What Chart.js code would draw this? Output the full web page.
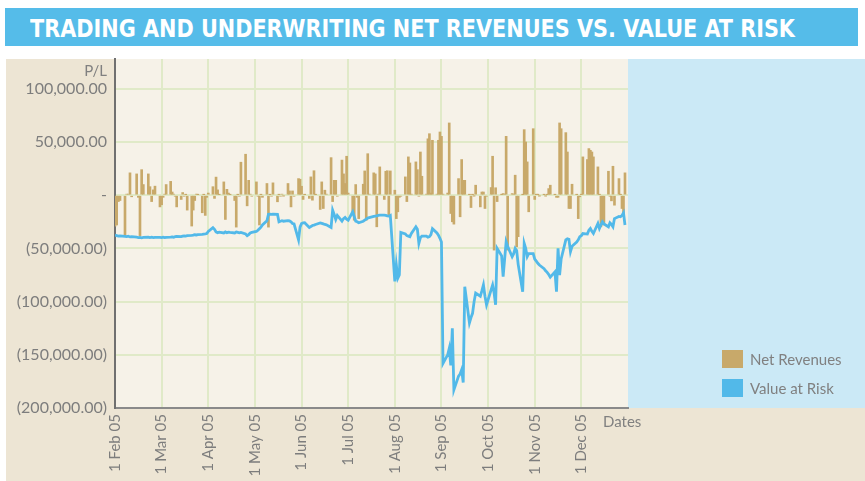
<!DOCTYPE html>
<html>
<head>
<meta charset="utf-8">
<script src="https://cdn.jsdelivr.net/npm/chart.js@4.4.1/dist/chart.umd.min.js"></script>
<style>
    body { margin: 0; background: #ffffff; }
    #page { position: relative; width: 865px; height: 481px; overflow: hidden; }
    #banner {
        position: absolute; left: 5px; top: 8px; width: 853px; height: 38px;
        background: #55bce9;
    }
    #bannerText {
        position: absolute; left: 25px; top: 6px;
        font-family: "Liberation Sans Narrow", "DejaVu Sans Condensed", "Open Sans", sans-serif;
        font-weight: bold; font-size: 25px; line-height: 30px; color: #ffffff;
        white-space: nowrap; transform-origin: 0 0;
    }
    #chart { position: absolute; left: 0; top: 0; }
    .legend-item {
        position: absolute; left: 722px; height: 18px;
        font-family: Lato, "Open Sans", sans-serif; font-size: 15px; color: #808080;
        white-space: nowrap;
    }
    .legend-item span.swatch {
        position: absolute; left: 0; top: 0; width: 21px; height: 18px;
    }
    .legend-item span.text { position: absolute; left: 28px; top: -1px; line-height: 20px; }
</style>
</head>
<body>
<div id="page">
    <div id="banner"><div id="bannerText">TRADING AND UNDERWRITING NET REVENUES VS. VALUE AT RISK</div></div>
    <canvas id="chart" width="865" height="481"></canvas>
    <div id="legend"></div>
</div>
<script>
// month labels on the date axis and days per month (Feb..Dec 2005)
const monthLabels = ['1 Feb 05', '1 Mar 05', '1 Apr 05', '1 May 05', '1 Jun 05', '1 Jul 05',
                     '1 Aug 05', '1 Sep 05', '1 Oct 05', '1 Nov 05', '1 Dec 05'];
const monthDays = [28, 31, 30, 31, 30, 31, 31, 30, 31, 30, 31];
const pnlTicks = [-200000, -150000, -100000, -50000, 0, 50000, 100000];

// daily P/L, one value per weekday
const netRevenues = [
    -29000, -28000, -6000, -5000, -38000, 1000, 1000, 21000, -1500, 20000, -2000, -38000, 24000, 10000, 20000, 8000, -6000, 5000, 8500, -11000,
    -9000, -2000, 1000, 10000, 13000, 3000, 1000, -1000, -11000, -4000, 2500, -1000, 500, -14000, -29000, -14000, -5000, 1000, 500, -16500, 500, -19000, -2000,
    2000, 8000, -3000, 17000, 5000, 500, 12500, -22800, 5500, 2000, 500, -5000, -30000, 500, -1000, 31000, 38500, -10000, 14000, 1000, -1000,
    12500, -1000, -28000, 500, -2000, 11000, -30000, 500, -1000, 11600, -6200, 500, -1000, 1000, -500, 11000, 4000, -11000, 4000, -1000, 15600, 15000,
    8400, -4000, 500, -3000, 17200, -4700, 23000, 500, -13400, 12500, -12500, 4700, 1000, 35300, -6000, 14000, 14000, -1000, 33000, 20000, 11000, 36600,
    2000, -15600, -23500, 10000, -2000, -22000, 10300, 22800, -23500, 39000, 1000, 21000, 20000, -29700, 1000, 26600, -4000, 22500, 23000, -18800, 22800,
    4700, -22000, -15600, -2000, -1000, 17200, -6000, 36000, 30300, 1000, 31300, 24000, -1000, 40600, 17800, 1000, 53000, 57800, 2000, 51600, 1000, 51600, 59400,
    55300, 1000, 2000, 67900, -17200, -25000, -27200, 15600, -20300, 33500, 14000, 14000, 500, -11600, 500, -500, 9400, -11000, 3000, 3000, -12500, -1000,
    7200, 36600, -51600, 7000, -6000, 500, 1500, 1000, 55300, -51600, 1500, 1000, 18800, -48500, -39000, 500, 61600, 50000, 31300, -15600, 62500,
    -4000, 500, 500, -500, 500, -500, 500, 6200, 9400, 500, -2000, -2000, 67900, 62500, 58800, 40600, -12500, -12500, 10300, 500, -22000, -1500,
    500, 36000, 33500, 43800, 42200, 40600, 36000, 26600, 500, -29700, -28000, -26600, 22500, -1000, -5300, 27200, -9400, 15600, 500, -12500, -17000, 21000
];

// daily value at risk, same days
const valueAtRisk = [
    -37500, -38000, -38500, -38200, -38800, -39000, -38500, -39200, -39000, -39500, -39800, -39600, -40000, -39700, -39400, -39800, -39500, -39900, -39600, -39700,
    -39800, -39500, -39900, -39600, -39400, -39200, -39500, -39000, -38800, -39000, -38500, -38200, -38400, -38000, -37800, -37600, -37200, -37400, -37000, -36800, -36600, -36400, -36000,
    -34000, -30500, -32000, -34500, -35300, -34800, -35500, -34500, -35200, -34800, -35000, -35500, -34600, -35000, -35400, -35000, -36500, -38000, -37000, -35500, -35000,
    -34000, -33000, -31500, -30000, -28000, -24000, -18000, -17800, -18000, -17800, -18000, -25000, -24500, -24000, -24500, -24000, -24200, -25000, -26600, -27000, -42000, -30000,
    -26600, -26000, -25900, -30300, -29500, -28500, -28100, -27500, -26000, -26500, -27000, -27500, -27800, -30300, -14000, -18000, -22800, -19000, -24400, -22000, -20900, -22500,
    -23500, -15600, -20000, -24400, -25000, -25900, -24500, -23500, -22500, -21500, -21000, -20000, -19700, -19500, -19000, -18800, -18800, -19000, -19500, -19700, -19000,
    -81000, -65600, -78000, -75000, -35000, -36500, -38000, -38500, -39000, -36000, -29700, -32000, -45300, -40000, -38500, -38500, -39500, -39000, -37000, -31500, -35500, -37500, -40500,
    -44000, -158000, -150000, -144000, -160000, -125000, -183000, -170000, -168000, -164000, -176000, -86000, -120000, -115000, -111000, -100000, -92000, -95000, -90000, -84400, -95000, -103000,
    -89000, -84400, -92000, -103000, -50000, -57000, -76600, -60000, -43800, -48000, -57800, -55000, -50000, -52000, -65000, -90700, -45300, -50000, -57800, -55000, -55000,
    -60000, -62000, -64000, -65600, -69000, -71000, -72500, -74500, -77000, -72000, -90700, -50000, -75000, -60000, -42000, -41000, -41500, -53000, -48000, -44000, -42000, -39000,
    -38000, -36000, -36500, -33000, -31300, -34000, -36000, -26600, -31300, -28000, -25000, -27000, -29700, -26000, -27500, -29700, -22000, -20000, -20300, -19000, -16600, -28000
];

// weekday positions: month index plus fraction of the month
function tradingDays() {
    const xs = [];
    const d = new Date(2005, 1, 1);
    while (d.getFullYear() === 2005) {
        const dow = d.getDay();
        if (dow !== 0 && dow !== 6) {
            const m = d.getMonth() - 1;
            xs.push(m + (d.getDate() - 1) / monthDays[m]);
        }
        d.setDate(d.getDate() + 1);
    }
    return xs;
}

function formatPnl(v) {
    if (v === 0) return '-';
    const s = Math.abs(v).toLocaleString('en-US', { minimumFractionDigits: 2, maximumFractionDigits: 2 });
    return v < 0 ? '(' + s + ')' : s;
}

const dayX = tradingDays();
const tickFont = { family: 'Lato, "Open Sans", sans-serif', size: 16 };
const gridColor = '#e0eac8';

// panel, plot and side backgrounds plus the axis captions
const backdrop = {
    id: 'backdrop',
    beforeDraw(chart) {
        const { ctx, chartArea: a } = chart;
        ctx.save();
        ctx.fillStyle = '#ede5d4';
        ctx.fillRect(6, 59, chart.width - 6, chart.height - 59);
        ctx.fillStyle = '#f6f2e8';
        ctx.fillRect(a.left, a.top, a.right - a.left, a.bottom - a.top);
        ctx.fillStyle = '#cbe9f6';
        ctx.fillRect(a.right, a.top, chart.width - a.right, a.bottom - a.top);
        ctx.restore();
    },
    afterDraw(chart) {
        const { ctx, chartArea: a } = chart;
        ctx.save();
        ctx.fillStyle = '#808080';
        ctx.font = '15px Lato, "Open Sans", sans-serif';
        ctx.textBaseline = 'middle';
        ctx.textAlign = 'right';
        ctx.fillText('P/L', a.left - 8, 71);
        ctx.textAlign = 'left';
        ctx.fillText('Dates', 603, a.bottom + 14);
        ctx.restore();
    }
};

const chart = new Chart(document.getElementById('chart'), {
    data: {
        datasets: [{
            type: 'bar',
            label: 'Net Revenues',
            data: netRevenues.map((v, i) => ({ x: dayX[i], y: v })),
            backgroundColor: '#c8a96a',
            barThickness: 2,
            order: 2
        }, {
            type: 'line',
            label: 'Value at Risk',
            data: valueAtRisk.map((v, i) => ({ x: dayX[i], y: v })),
            borderColor: '#52b9e9',
            backgroundColor: '#52b9e9',
            borderWidth: 2.8,
            pointRadius: 0,
            tension: 0,
            order: 1
        }]
    },
    options: {
        responsive: false,
        animation: false,
        devicePixelRatio: 1,
        layout: { padding: { top: 59, right: 237, left: 0, bottom: 0 } },
        plugins: { legend: { display: false }, tooltip: { enabled: false } },
        scales: {
            x: {
                type: 'linear',
                min: 0,
                max: monthLabels.length,
                offset: false,
                afterBuildTicks: scale => { scale.ticks = monthLabels.map((_, i) => ({ value: i })); },
                afterFit: scale => { scale.height = 73; },
                grid: { color: gridColor, lineWidth: 2, drawTicks: false, offset: false },
                border: { color: '#8a8a8a', width: 2 },
                ticks: {
                    autoSkip: false,
                    minRotation: 90,
                    maxRotation: 90,
                    padding: 6,
                    color: '#7d7d7d',
                    font: { family: 'Lato, "Open Sans", sans-serif', size: 15 },
                    callback: (v, i) => monthLabels[i]
                }
            },
            y: {
                min: -200000,
                max: 128000,
                afterBuildTicks: scale => { scale.ticks = pnlTicks.map(v => ({ value: v })); },
                afterFit: scale => { scale.width = 115; },
                grid: { color: gridColor, lineWidth: 2, drawTicks: false },
                border: { color: '#707070', width: 2 },
                ticks: {
                    padding: 8,
                    color: '#7d7d7d',
                    font: tickFont,
                    callback: v => formatPnl(v)
                }
            }
        }
    },
    plugins: [backdrop]
});

// legend beside the plot
const legend = document.getElementById('legend');
chart.data.datasets.forEach((ds, i) => {
    const item = document.createElement('div');
    item.className = 'legend-item';
    item.style.top = (350 + i * 29) + 'px';
    item.innerHTML = `<span class="swatch" style="background:${ds.backgroundColor}"></span><span class="text">${ds.label}</span>`;
    legend.appendChild(item);
});

// stretch the banner heading to its width
const title = document.getElementById('bannerText');
title.style.transform = 'scaleX(' + (765 / title.offsetWidth) + ')';
</script>
</body>
</html>
